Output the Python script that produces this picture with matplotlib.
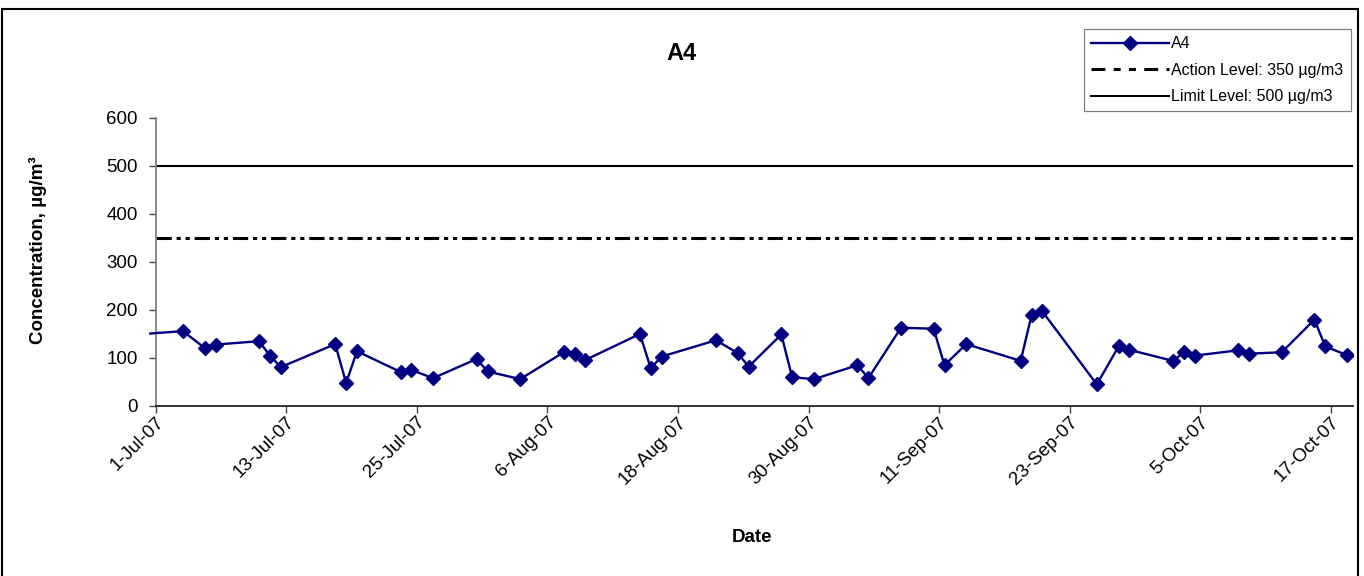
import matplotlib
matplotlib.use('Agg')
import matplotlib.pyplot as plt
import matplotlib.dates as mdates
from matplotlib.lines import Line2D
from matplotlib.patches import Rectangle
import numpy as np
import datetime as dt

plt.rcParams['font.family'] = ['Liberation Sans', 'DejaVu Sans']
plt.rcParams['lines.scale_dashes'] = False

# ---------------- data ----------------
title = 'A4'
series_name = 'A4'
dates = ['2007-06-30', '2007-07-03', '2007-07-05', '2007-07-06', '2007-07-10', '2007-07-11',
         '2007-07-12', '2007-07-17', '2007-07-18', '2007-07-19', '2007-07-23', '2007-07-24',
         '2007-07-26', '2007-07-30', '2007-07-31', '2007-08-03', '2007-08-07', '2007-08-08',
         '2007-08-09', '2007-08-14', '2007-08-15', '2007-08-16', '2007-08-21', '2007-08-23',
         '2007-08-24', '2007-08-27', '2007-08-28', '2007-08-30', '2007-09-03', '2007-09-04',
         '2007-09-07', '2007-09-10', '2007-09-11', '2007-09-13', '2007-09-18', '2007-09-19',
         '2007-09-20', '2007-09-25', '2007-09-27', '2007-09-28', '2007-10-02', '2007-10-03',
         '2007-10-04', '2007-10-08', '2007-10-09', '2007-10-12', '2007-10-15', '2007-10-16',
         '2007-10-18']
values = [151, 156, 121, 128, 135, 105,
          81, 129, 48, 114, 71, 75,
          58, 98, 72, 56, 112, 108,
          96, 150, 79, 103, 137, 110,
          82, 149, 60, 56, 85, 58,
          163, 161, 85, 129, 94, 189,
          197, 45, 124, 117, 94, 112,
          105, 116, 109, 112, 180, 124,
          106]
action_level = 350
limit_level = 500
action_label = 'Action Level: 350 µg/m3'
limit_label = 'Limit Level: 500 µg/m3'
x_start = '2007-07-01'
x_end = '2007-10-19'
tick_dates = ['2007-07-01', '2007-07-13', '2007-07-25', '2007-08-06', '2007-08-18',
              '2007-08-30', '2007-09-11', '2007-09-23', '2007-10-05', '2007-10-17']
tick_labels = ['1-Jul-07', '13-Jul-07', '25-Jul-07', '6-Aug-07', '18-Aug-07',
               '30-Aug-07', '11-Sep-07', '23-Sep-07', '5-Oct-07', '17-Oct-07']
y_ticks = [0, 100, 200, 300, 400, 500, 600]
x_label = 'Date'
y_label = 'Concentration, µg/m³'

# ---------------- figure ----------------
W, H = 1364, 576
fig = plt.figure(figsize=(W / 100, H / 100), dpi=100)
L, R, T, B = 155.7, 1352.5, 118, 406
ax = fig.add_axes([L / W, 1 - B / H, (R - L) / W, (B - T) / H])

def dn(s):
    return mdates.date2num(dt.datetime.strptime(s, '%Y-%m-%d'))

# Excel date axis: points sit in the middle of each day slot
xs = np.array([dn(d) for d in dates]) + 0.5
vals = np.array(values, dtype=float)

navy = '#000080'
ax.plot(xs, vals, color=navy, lw=1.7, clip_on=False, zorder=3)
ax.plot(xs[1:], vals[1:], ls='none', marker='D', ms=6.8, color=navy, zorder=4)

action_ls = (0, (11, 3.5, 3, 3.5, 3, 3.5))
ax.axhline(limit_level, color='black', lw=1.5, zorder=2)
ax.axhline(action_level, color='black', lw=2.2, ls=action_ls, zorder=2)

ax.set_xlim(dn(x_start), dn(x_end))
ax.set_ylim(0, 600)
ax.set_yticks(y_ticks)
ax.set_yticklabels([str(v) for v in y_ticks], fontsize=13.5)
ax.set_xticks([dn(d) for d in tick_dates])
ax.set_xticklabels(tick_labels, fontsize=13.5, rotation=45, ha='right',
                   va='top', rotation_mode='anchor')

for s in ['top', 'right']:
    ax.spines[s].set_visible(False)
ax.spines['left'].set_color('#808080')
ax.spines['left'].set_linewidth(1.3)
ax.spines['bottom'].set_color('#222222')
ax.spines['bottom'].set_linewidth(1.3)
ax.tick_params(axis='y', direction='out', length=5, width=1, color='#444444', pad=8)
ax.tick_params(axis='x', direction='out', length=5, width=1, color='#444444', pad=0.5)

# texts
fig.text(681 / W, 1 - 53 / H, title, ha='center', va='center', fontsize=17, weight='bold')
fig.text(38 / W, 1 - 250 / H, y_label, ha='center', va='center', rotation=90,
         fontsize=13.5, weight='bold')
fig.text(752 / W, 1 - 537 / H, x_label, ha='center', va='center', fontsize=13.5,
         weight='bold')

# legend
handles = [Line2D([], [], color=navy, lw=1.7, marker='D', ms=6.8),
           Line2D([], [], color='black', lw=2.2, ls=(0, (10, 6, 5, 6, 5, 6))),
           Line2D([], [], color='black', lw=1.5)]
leg = ax.legend(handles, [series_name, action_label, limit_label], loc='upper left',
                bbox_to_anchor=(1083.6 / W, 1 - 29 / H), bbox_transform=fig.transFigure,
                fontsize=11.5, frameon=True, fancybox=False, edgecolor='#808080',
                framealpha=1, handlelength=4.9, handletextpad=0.15, borderpad=0.45,
                labelspacing=0.72, borderaxespad=0)
leg.get_frame().set_linewidth(0.9)

# chart-area border
fig.add_artist(Rectangle((1.5 / W, -0.1), (1358 - 1.5) / W, 1 - 9 / H + 0.1,
                         transform=fig.transFigure, fill=False, lw=1.5,
                         ec='black', clip_on=False))

fig.savefig('out.png', dpi=100)
